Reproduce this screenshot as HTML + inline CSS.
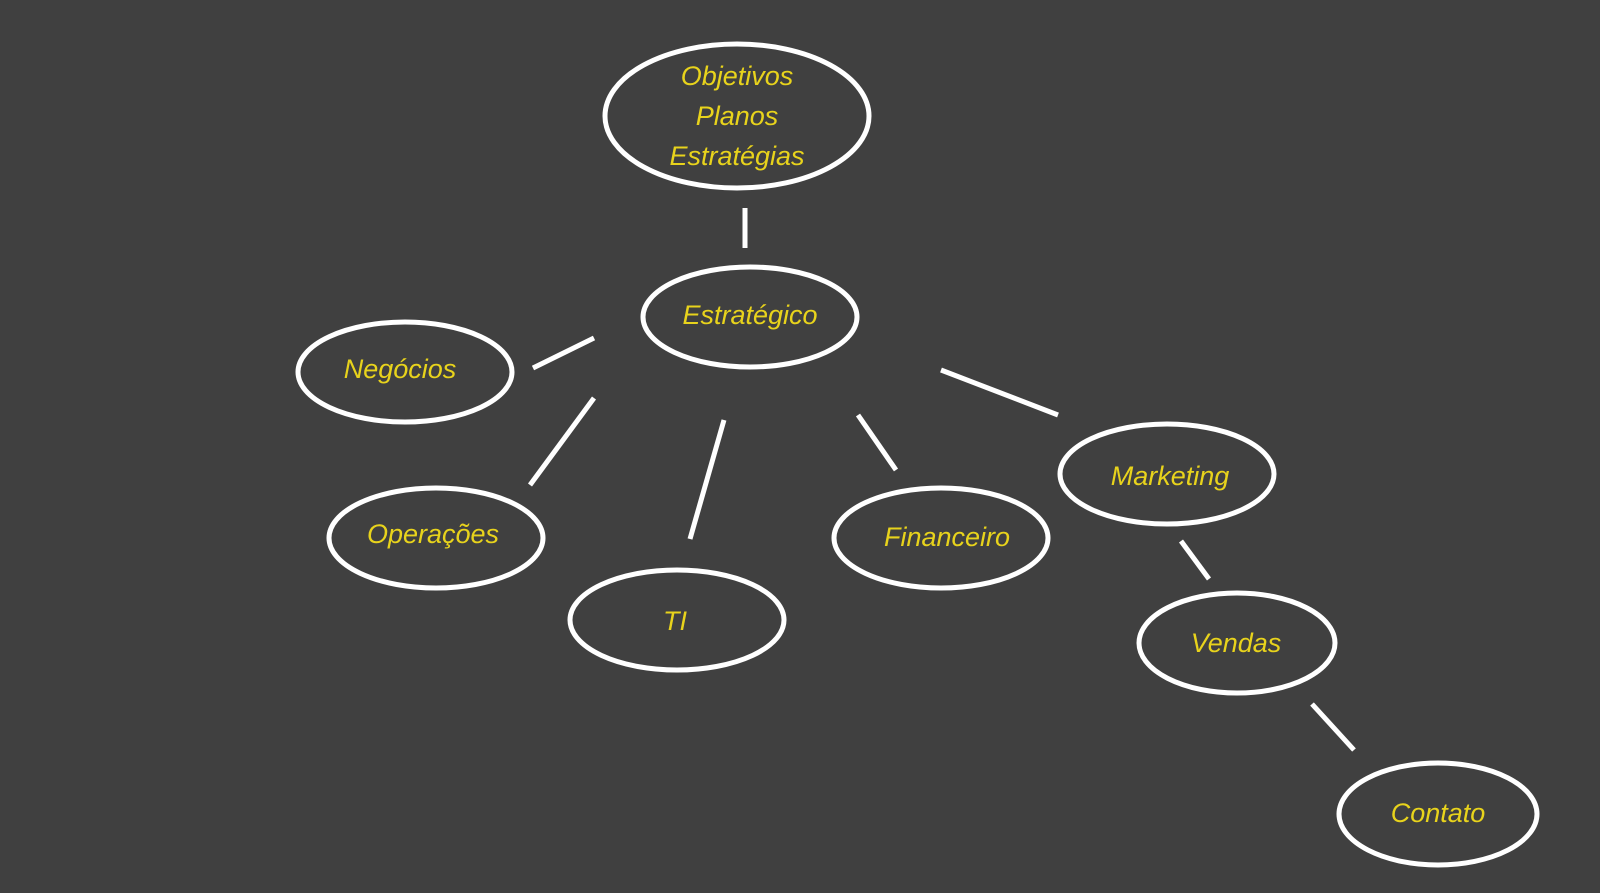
<!DOCTYPE html>
<html><head><meta charset="utf-8"><style>
html,body{margin:0;padding:0;background:#404040;}
svg{display:block}
text{font-family:"Liberation Sans","DejaVu Sans",sans-serif;font-style:italic;font-size:27px;fill:#e8d31c;text-anchor:middle;dominant-baseline:central}
</style></head><body>
<svg width="1600" height="893" viewBox="0 0 1600 893">
<rect width="1600" height="893" fill="#404040"/>
<g fill="none" stroke="#fff" stroke-width="5">
<ellipse cx="737" cy="116" rx="132" ry="72"/>
<ellipse cx="750" cy="317" rx="107" ry="50"/>
<ellipse cx="405" cy="372" rx="107" ry="50"/>
<ellipse cx="436" cy="538" rx="107" ry="50"/>
<ellipse cx="677" cy="620" rx="107" ry="50"/>
<ellipse cx="941" cy="538" rx="107" ry="50"/>
<ellipse cx="1167" cy="474" rx="107" ry="50"/>
<ellipse cx="1237" cy="643" rx="98" ry="50"/>
<ellipse cx="1438" cy="814" rx="99" ry="51"/>
<line x1="745" y1="208" x2="745" y2="248"/>
<line x1="533" y1="368" x2="594" y2="338"/>
<line x1="530" y1="485" x2="594" y2="398"/>
<line x1="690" y1="539" x2="724" y2="420"/>
<line x1="858" y1="415" x2="896" y2="470"/>
<line x1="941" y1="370" x2="1058" y2="415"/>
<line x1="1181" y1="541" x2="1209" y2="579"/>
<line x1="1312" y1="704" x2="1354" y2="750"/>
</g>
<text x="737" y="76">Objetivos</text>
<text x="737" y="116">Planos</text>
<text x="737" y="156">Estratégias</text>
<text x="750" y="315">Estratégico</text>
<text x="400" y="369">Negócios</text>
<text x="433" y="534">Operações</text>
<text x="675" y="621">TI</text>
<text x="947" y="537">Financeiro</text>
<text x="1170" y="476">Marketing</text>
<text x="1236" y="643">Vendas</text>
<text x="1438" y="813">Contato</text>
</svg>
</body></html>
